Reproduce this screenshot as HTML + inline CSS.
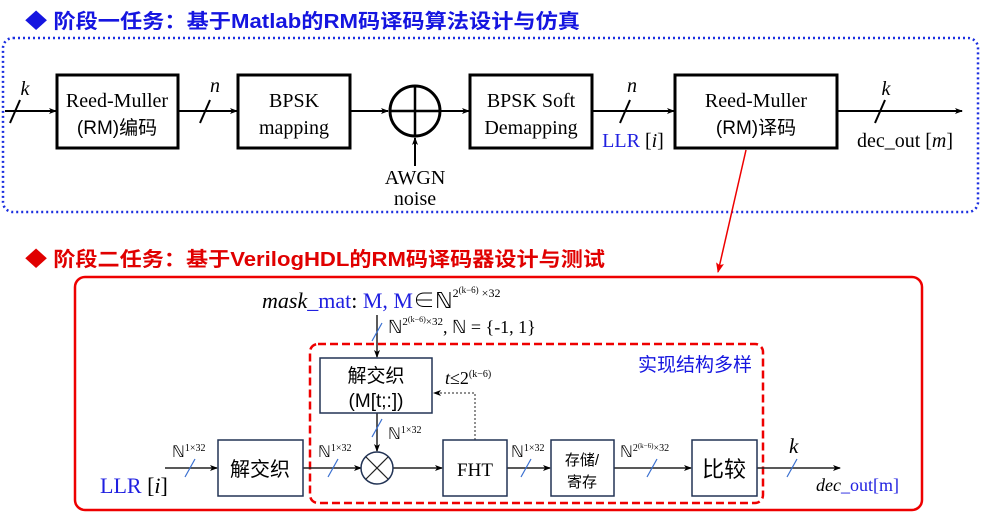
<!DOCTYPE html>
<html><head><meta charset="utf-8"><style>
body{margin:0;background:#fff;}
svg{display:block;}
.t{font-family:"Liberation Serif","Noto Serif CJK SC",serif;}
.s{font-family:"Liberation Sans","Noto Sans CJK SC",sans-serif;}
</style></head><body>
<svg width="983" height="514" viewBox="0 0 983 514" xmlns="http://www.w3.org/2000/svg">
<defs>
<marker id="a" markerWidth="8" markerHeight="8" refX="7" refY="4" orient="auto" markerUnits="userSpaceOnUse"><path d="M0,1 L8,4 L0,7 L2,4 Z" fill="#000"/></marker>
<marker id="ar" markerWidth="10" markerHeight="10" refX="9" refY="5" orient="auto" markerUnits="userSpaceOnUse"><path d="M0,1 L10,5 L0,9 L2,5 Z" fill="#e00"/></marker>
</defs>
<text x="25" y="28" class="s" font-size="20" font-weight="bold" fill="#1515e0" textLength="555" lengthAdjust="spacingAndGlyphs">◆ 阶段一任务：基于Matlab的RM码译码算法设计与仿真</text>
<rect x="3" y="38" width="975" height="174" rx="10" fill="none" stroke="#1a2ee0" stroke-width="2.5" stroke-dasharray="2,3"/>
<g stroke="#000" stroke-width="2" fill="none">
<line x1="5" y1="111" x2="56" y2="111" marker-end="url(#a)"/>
<line x1="178" y1="111" x2="237" y2="111" marker-end="url(#a)"/>
<line x1="350" y1="111" x2="388" y2="111" marker-end="url(#a)"/>
<line x1="441" y1="111" x2="469" y2="111" marker-end="url(#a)"/>
<line x1="592" y1="111" x2="674" y2="111" marker-end="url(#a)"/>
<line x1="837" y1="111" x2="962" y2="111" marker-end="url(#a)"/>
<line x1="415" y1="166" x2="415" y2="138" marker-end="url(#a)"/>
<line x1="10" y1="123" x2="20" y2="100"/>
<line x1="200" y1="123" x2="210" y2="100"/>
<line x1="620" y1="123" x2="630" y2="100"/>
<line x1="875" y1="123" x2="885" y2="100"/>
<rect x="57" y="75" width="121" height="73" stroke-width="3"/>
<rect x="238" y="75" width="112" height="73" stroke-width="3"/>
<rect x="470" y="75" width="122" height="73" stroke-width="3"/>
<rect x="675" y="75" width="162" height="73" stroke-width="3"/>
<circle cx="415" cy="111" r="25" stroke-width="3"/>
<line x1="390" y1="111" x2="440" y2="111" stroke-width="2.5"/>
<line x1="415" y1="86" x2="415" y2="136" stroke-width="2.5"/>
</g>
<g class="t" font-size="20" text-anchor="middle" fill="#000">
<text x="117" y="107">Reed-Muller</text>
<text x="117" y="134" class="s" font-size="19">(RM)编码</text>
<text x="294" y="107">BPSK</text><text x="294" y="134">mapping</text>
<text x="531" y="107">BPSK Soft</text><text x="531" y="134">Demapping</text>
<text x="756" y="107">Reed-Muller</text>
<text x="756" y="134" class="s" font-size="19">(RM)译码</text>
<text x="415" y="184">AWGN</text><text x="415" y="205">noise</text>
<text x="25" y="95" font-style="italic">k</text>
<text x="215" y="92" font-style="italic">n</text>
<text x="632" y="92" font-style="italic">n</text>
<text x="886" y="95" font-style="italic">k</text>
<text x="633" y="147"><tspan fill="#2020e0">LLR</tspan> [<tspan font-style="italic">i</tspan>]</text>
<text x="905" y="147">dec_out [<tspan font-style="italic">m</tspan>]</text>
</g>
<line x1="746" y1="150" x2="718" y2="272" stroke="#e00" stroke-width="1.5" marker-end="url(#ar)"/>
<text x="25" y="266" class="s" font-size="20" font-weight="bold" fill="#e00000" textLength="580" lengthAdjust="spacingAndGlyphs">◆ 阶段二任务：基于VerilogHDL的RM码译码器设计与测试</text>
<rect x="75" y="277" width="847" height="233" rx="10" fill="none" stroke="#e00" stroke-width="2.5"/>
<rect x="310" y="344" width="453" height="159" rx="8" fill="none" stroke="#e00" stroke-width="2.5" stroke-dasharray="8,4"/>
<text x="752" y="371" class="s" font-size="19" fill="#1515e0" text-anchor="end">实现结构多样</text>
<g stroke="#222" stroke-width="1.5" fill="none">
<line x1="165" y1="468" x2="217" y2="468" marker-end="url(#a)"/>
<line x1="303" y1="468" x2="361" y2="468" marker-end="url(#a)"/>
<line x1="393" y1="468" x2="442" y2="468" marker-end="url(#a)"/>
<line x1="507" y1="468" x2="550" y2="468" marker-end="url(#a)"/>
<line x1="614" y1="468" x2="691" y2="468" marker-end="url(#a)"/>
<line x1="757" y1="468" x2="840" y2="468" marker-end="url(#a)"/>
<line x1="377" y1="315" x2="377" y2="357" marker-end="url(#a)"/>
<line x1="377" y1="413" x2="377" y2="451" marker-end="url(#a)"/>
<polyline points="475,440 475,393 434,393" stroke-dasharray="2,2" stroke-width="1" marker-end="url(#a)"/>
</g>
<g stroke="#3a70d0" stroke-width="1.2">
<line x1="185" y1="477" x2="195" y2="459"/>
<line x1="328" y1="477" x2="338" y2="459"/>
<line x1="521" y1="477" x2="531" y2="459"/>
<line x1="647" y1="477" x2="657" y2="459"/>
<line x1="787" y1="477" x2="797" y2="459"/>
<line x1="372" y1="341" x2="382" y2="323"/>
<line x1="372" y1="437" x2="382" y2="419"/>
</g>
<g fill="#fff" stroke="#223355" stroke-width="1.5">
<rect x="320" y="358" width="112" height="55"/>
<rect x="218" y="440" width="85" height="56"/>
<rect x="443" y="440" width="64" height="56"/>
<rect x="551" y="440" width="63" height="56"/>
<rect x="692" y="440" width="65" height="56"/>
<circle cx="377" cy="468" r="16"/>
</g>
<g stroke="#222" stroke-width="1.2"><line x1="366" y1="457" x2="388" y2="479"/><line x1="388" y1="457" x2="366" y2="479"/></g>
<g class="s" text-anchor="middle" fill="#000">
<text x="376" y="382" font-size="19">解交织</text>
<text x="376" y="407" font-size="19">(M[t;:])</text>
<text x="260" y="476" font-size="20">解交织</text>
<text x="582" y="465" font-size="15">存储/</text>
<text x="582" y="487" font-size="15">寄存</text>
<text x="724" y="477" font-size="22">比较</text>
</g>
<g class="t" fill="#000">
<text x="475" y="476" font-size="19" text-anchor="middle">FHT</text>
<text x="262" y="308" font-size="22"><tspan font-style="italic">mask</tspan><tspan fill="#2020e0">_mat</tspan>: <tspan fill="#2020e0">M,  M</tspan>∈ℕ<tspan font-size="12" dy="-11">2<tspan font-size="9" dy="-4">(k−6)</tspan><tspan dy="4"> ×32</tspan></tspan></text>
<text x="388" y="333" font-size="18">ℕ<tspan font-size="11" dy="-8">2<tspan font-size="8" dy="-3">(k−6)</tspan><tspan dy="3">×32</tspan></tspan><tspan dy="8">, ℕ = {-1, 1}</tspan></text>
<text x="445" y="384" font-size="18"><tspan font-style="italic">t</tspan>≤2<tspan font-size="10" dy="-7">(k−6)</tspan></text>
<text x="388" y="439" font-size="16">ℕ<tspan font-size="10" dy="-6">1×32</tspan></text>
<text x="172" y="457" font-size="16">ℕ<tspan font-size="10" dy="-6">1×32</tspan></text>
<text x="318" y="457" font-size="16">ℕ<tspan font-size="10" dy="-6">1×32</tspan></text>
<text x="511" y="457" font-size="16">ℕ<tspan font-size="10" dy="-6">1×32</tspan></text>
<text x="620" y="457" font-size="16">ℕ<tspan font-size="10" dy="-6">2<tspan font-size="7" dy="-3">(k−6)</tspan><tspan dy="3">×32</tspan></tspan></text>
<text x="789" y="453" font-size="21" font-style="italic">k</text>
<text x="100" y="493" font-size="22"><tspan fill="#2020e0">LLR</tspan> [<tspan font-style="italic">i</tspan>]</text>
<text x="816" y="491" font-size="18"><tspan font-style="italic">dec</tspan><tspan fill="#2020e0">_out[m]</tspan></text>
</g>
</svg>
</body></html>
